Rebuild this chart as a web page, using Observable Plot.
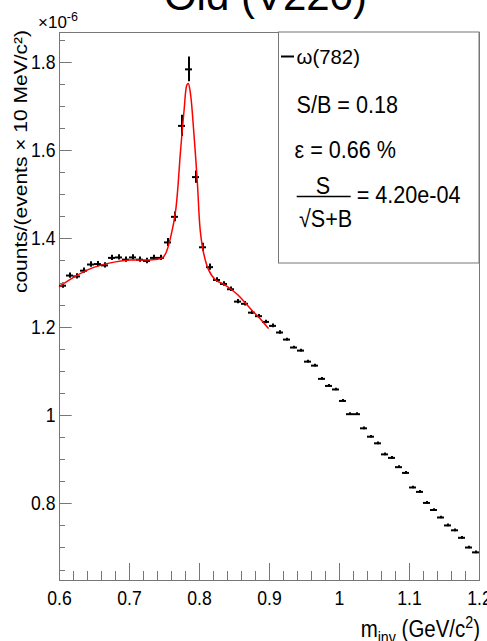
<!DOCTYPE html>
<html><head><meta charset="utf-8">
<script src="https://cdn.jsdelivr.net/npm/d3@7"></script>
<script src="https://cdn.jsdelivr.net/npm/@observablehq/plot@0.6"></script>
<style>body{margin:0;background:#fff;} #chart{width:487px;height:641px;overflow:hidden}</style>
</head><body><div id="chart"></div>
<script>
// ---- data (units of 1e-6) ----
const binCenters = [0.605,0.615,0.625,0.635,0.645,0.655,0.665,0.675,0.685,0.695,
  0.705,0.715,0.725,0.735,0.745,0.755,0.765,0.775,0.785,0.795,
  0.805,0.815,0.825,0.835,0.845,0.855,0.865,0.875,0.885,0.895,
  0.905,0.915,0.925,0.935,0.945,0.955,0.965,0.975,0.985,0.995,
  1.005,1.015,1.025,1.035,1.045,1.055,1.065,1.075,1.085,1.095,
  1.105,1.115,1.125,1.135,1.145,1.155,1.165,1.175,1.185,1.195];
const counts = [1.294,1.317,1.315,1.328,1.342,1.343,1.340,1.357,1.358,1.353,
  1.358,1.353,1.350,1.357,1.357,1.392,1.450,1.656,1.784,1.540,
  1.381,1.336,1.307,1.298,1.286,1.258,1.253,1.233,1.225,1.212,
  1.203,1.188,1.172,1.154,1.147,1.122,1.113,1.083,1.067,1.059,
  1.033,1.003,1.003,0.971,0.952,0.937,0.912,0.904,0.883,0.870,
  0.837,0.827,0.802,0.786,0.769,0.751,0.740,0.723,0.701,0.690];
const errors = [0.006,0.006,0.006,0.006,0.006,0.006,0.006,0.006,0.006,0.006,
  0.006,0.006,0.006,0.006,0.006,0.009,0.011,0.024,0.028,0.014,
  0.009,0.007,0.005,0.005,0.005,0.005,0.005,0.004,0.004,0.004,
  0.004,0.004,0.003,0.003,0.003,0.003,0.003,0.003,0.003,0.003,
  0.003,0.003,0.003,0.003,0.003,0.003,0.003,0.003,0.003,0.003,
  0.003,0.003,0.003,0.003,0.003,0.003,0.003,0.003,0.003,0.003];
const binHalfWidth = 0.005;
const fitX = [0.600,0.620,0.650,0.680,0.700,0.720,0.740,0.747,0.752,0.759,0.766,0.773,0.778,0.782,0.784,0.787,0.792,0.797,0.801,0.806,0.813,0.823,0.835,0.845,0.855,0.865,0.875,0.885,0.898];
const fitY = [1.292,1.313,1.336,1.348,1.352,1.352,1.354,1.357,1.368,1.405,1.465,1.601,1.692,1.749,1.752,1.730,1.639,1.526,1.420,1.367,1.330,1.307,1.297,1.286,1.273,1.256,1.238,1.222,1.198];
const xMajor = [0.6,0.7,0.8,0.9,1.0,1.1,1.2];
const xTickLabels = ["0.6","0.7","0.8","0.9","1","1.1","1.2"];
const xMinor = [0.62,0.64,0.66,0.68,0.72,0.74,0.76,0.78,0.82,0.84,0.86,0.88,0.92,0.94,0.96,0.98,1.02,1.04,1.06,1.08,1.12,1.14,1.16,1.18];
const yMajor = [0.8,1.0,1.2,1.4,1.6,1.8];
const yTickLabels = ["0.8","1","1.2","1.4","1.6","1.8"];
const yMinor = [0.65,0.7,0.75,0.85,0.9,0.95,1.05,1.1,1.15,1.25,1.3,1.35,1.45,1.5,1.55,1.65,1.7,1.75,1.85];
const title = "Old (V220)";
const yTitle = "counts/(events \u00d7 10 MeV/c\u00b2)";
const legendName = "\u03c9(782)";
const legendLines = ["S/B = 0.18", "\u03b5 = 0.66 %"];
const sigNum = "S", sigDen = "\u221aS+B", sigValue = "= 4.20e-04";

const points = binCenters.map((x, i) => ({x, y: counts[i], e: errors[i]}));
const fit = fitX.map((x, i) => ({x, y: fitY[i]}));
const font = "'Liberation Sans', Arial, Helvetica, sans-serif";
const axisGray = "#777";

const W = 487, H = 641, mT = 32, mL = 59, mR = 8, mB = 61;
const xDomain = [0.6, 1.2], yDomain = [0.6263, 1.8675];

const plot = Plot.plot({
  width: W, height: H,
  marginTop: mT, marginLeft: mL, marginRight: mR, marginBottom: mB,
  style: {fontFamily: font, background: "white", color: "black"},
  x: {domain: xDomain, axis: null},
  y: {domain: yDomain, axis: null},
  marks: [
    Plot.frame({stroke: axisGray}),
    Plot.axisY(yMajor, {anchor: "left", tickSize: 0, tickPadding: 4, fontSize: 20.5, fill: "black", label: null,
      tickFormat: d => yTickLabels[yMajor.indexOf(d)]}),
    Plot.axisX(xMajor, {anchor: "bottom", tickSize: 0, tickPadding: 10, fontSize: 20.5, fill: "black", label: null,
      tickFormat: d => xTickLabels[xMajor.indexOf(d)]}),
    Plot.ruleX(points, {x: "x", y1: d => d.y - d.e, y2: d => d.y + d.e, stroke: "black", strokeWidth: 2}),
    Plot.ruleY(points, {y: "y", x1: d => d.x - binHalfWidth, x2: d => d.x + binHalfWidth, stroke: "black", strokeWidth: 2}),
    Plot.line(fit, {x: "x", y: "y", stroke: "#ff0000", strokeWidth: 1.5, curve: "catmull-rom"}),
    Plot.text([title], {text: d => d, frameAnchor: "top", lineAnchor: "middle", dx: -4, dy: -36.4, fontSize: 42,
      fill: "black", ariaLabel: "title"})
  ]
});
document.getElementById("chart").appendChild(plot);

// squeeze text horizontally (like the reference rendering)
function squeeze(label, r) {
  plot.querySelectorAll(`g[aria-label="${label}"] text`).forEach(t => {
    const tr = t.getAttribute("transform") || "";
    t.setAttribute("transform", tr + ` scale(${r},1)`);
  });
}
squeeze("y-axis tick label", 0.86);
squeeze("x-axis tick label", 0.86);
squeeze("title", 0.9);

const svg = d3.select(plot);
// inward tick marks, positioned through Plot's own scales
const sx = plot.scale("x"), sy = plot.scale("y");
const x0 = sx.apply(xDomain[0]), y0 = sy.apply(yDomain[0]);
const px = v => Math.round(v) + 0.5;
let tickPath = "";
for (const v of yMajor) tickPath += `M${x0},${px(sy.apply(v))}h12.7`;
for (const v of yMinor) tickPath += `M${x0},${px(sy.apply(v))}h6`;
for (const v of xMajor) tickPath += `M${px(sx.apply(v))},${y0}v-17`;
for (const v of xMinor) tickPath += `M${px(sx.apply(v))},${y0}v-9`;
svg.append("path").attr("d", tickPath).attr("fill", "none")
  .attr("stroke", axisGray).attr("stroke-width", 1);

// legend / annotations
const g = svg.append("g").attr("font-family", font).attr("fill", "black");
function txt(s, x, y, size, r, anchor = "start") {
  return g.append("text").attr("transform", `translate(${x},${y}) scale(${r},1)`)
    .attr("font-size", size).attr("text-anchor", anchor).text(s);
}
// y title (rotated)
g.append("text").attr("transform", "translate(21,30) rotate(-90) scale(1,0.9)")
  .attr("font-size", 21).attr("text-anchor", "end").attr("dy", "0.32em").text(yTitle);

g.append("rect").attr("x", 278.5).attr("y", 32).attr("width", 200.5).attr("height", 231)
  .attr("fill", "white").attr("stroke", axisGray);
g.append("line").attr("x1", 281).attr("x2", 294).attr("y1", 56.5).attr("y2", 56.5)
  .attr("stroke", "black").attr("stroke-width", 2);
txt(legendName, 296.5, 64.3, 21, 0.97);
txt(legendLines[0], 296.5, 112.7, 24, 0.9);
txt(legendLines[1], 294.5, 158.3, 24, 0.9);
txt(sigNum, 323, 194, 24, 0.9, "middle");
g.append("line").attr("x1", 296.7).attr("x2", 350.7).attr("y1", 196.5).attr("y2", 196.5)
  .attr("stroke", "black").attr("stroke-width", 1.5);
txt(sigDen, 299, 226.7, 24, 0.9);
txt(sigValue, 356.7, 203.3, 24, 0.9);

// exponent
const ex = g.append("text").attr("transform", "translate(58,28.3)").attr("font-size", 17);
ex.append("tspan").text("\u00d710");
ex.append("tspan").attr("dy", -7).attr("font-size", 12.5).text("-6");

// x title
const xt = g.append("text").attr("transform", "translate(480,637) scale(0.89,1)")
  .attr("font-size", 23).attr("text-anchor", "end");
xt.append("tspan").text("m");
xt.append("tspan").attr("dy", 6).attr("font-size", 16).text("inv");
xt.append("tspan").attr("dy", -6).text(" (GeV/c");
xt.append("tspan").attr("dy", -9).attr("font-size", 16).text("2");
xt.append("tspan").attr("dy", 9).text(")");
</script>
</body></html>
